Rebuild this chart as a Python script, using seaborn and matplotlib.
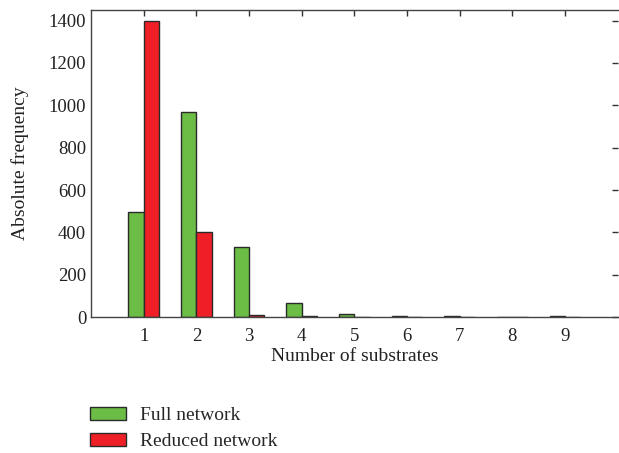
import matplotlib
matplotlib.use("Agg")
import matplotlib.pyplot as plt
import seaborn as sns
import pandas as pd

substrates = [1, 2, 3, 4, 5, 6, 7, 8, 9]
full_network = [495, 970, 330, 65, 15, 3, 5, 2, 5]
reduced_network = [1400, 400, 8, 3, 1, 1, 2, 0, 1]
series_names = ["Full network", "Reduced network"]
colors = ["#6bbd45", "#ee1f26"]

df = pd.DataFrame({
    "Number of substrates": substrates * 2,
    "Absolute frequency": full_network + reduced_network,
    "Series": [series_names[0]] * len(substrates) + [series_names[1]] * len(substrates),
})

sns.set_style("white")
plt.rcParams["font.family"] = ["Liberation Serif", "DejaVu Serif"]

fig = plt.figure(figsize=(6.19, 4.53), dpi=100)
ax = fig.add_axes([0.147, 0.30, 0.851, 0.678])

sns.barplot(data=df, x="Number of substrates", y="Absolute frequency", hue="Series",
            native_scale=True, palette=colors, width=0.58, dodge=True,
            edgecolor="#2a2a2a", linewidth=1.0, ax=ax, legend=True, saturation=1)

ax.set_xlim(0, 10)
ax.set_ylim(0, 1450)
ax.set_xticks(substrates)
ax.set_xticklabels([str(s) for s in substrates])
ax.set_yticks(range(0, 1401, 200))
ax.tick_params(direction="in", top=True, right=True, length=4, width=1,
               labelsize=13.5, colors="#333333", labelcolor="#222222")
ax.tick_params(axis="x", pad=8)
for s in ax.spines.values():
    s.set_color("#444444")
    s.set_linewidth(1.0)
ax.spines["right"].set_visible(False)
ax.set_xlabel("Number of substrates", fontsize=14, color="#222222", labelpad=2)
ax.set_ylabel("Absolute frequency", fontsize=14, color="#222222", labelpad=14)

handles, labels = ax.get_legend_handles_labels()
ax.get_legend().remove()
fig.legend(handles, labels, loc="upper left", bbox_to_anchor=(0.145, 0.102),
           frameon=False, fontsize=14, handlelength=1.85, handleheight=0.65,
           labelspacing=0.45, handletextpad=0.72, borderaxespad=0, borderpad=0)

fig.savefig("out.png", dpi=100)
